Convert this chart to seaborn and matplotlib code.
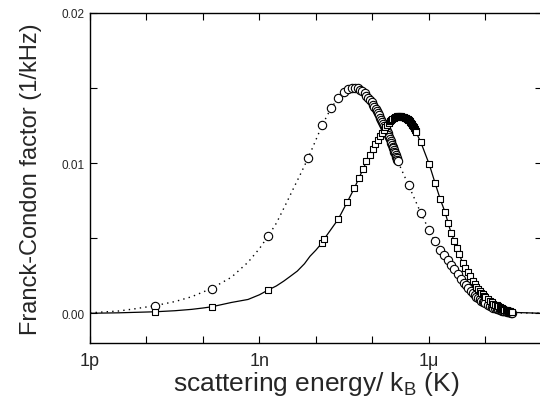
import numpy as np
import pandas as pd
import matplotlib
matplotlib.use("Agg")
import matplotlib.pyplot as plt
import seaborn as sns
from matplotlib.ticker import FixedLocator, FuncFormatter, MultipleLocator

# ---------------- data (energies in K, Franck-Condon factor in 1/kHz) ----------------
circle_E = [1.43e-11, 1.42e-10, 1.45e-9, 7.3e-9, 13.0e-9, 18.8e-9, 25.2e-9,
            31e-9, 37e-9, 43e-9, 49e-9, 55e-9, 61e-9, 67e-9, 73e-9, 79e-9, 85e-9,
            91e-9, 97e-9, 103e-9, 109e-9, 115e-9, 121e-9, 127e-9, 133e-9, 139e-9,
            145e-9, 151e-9, 157e-9, 163e-9, 169e-9, 175e-9, 181e-9, 187e-9, 193e-9,
            199e-9, 205e-9, 211e-9, 217e-9, 223e-9, 229e-9, 235e-9, 241e-9, 247e-9,
            253e-9, 259e-9, 265e-9, 271e-9, 277e-9, 284e-9,
            0.44e-6, 0.73e-6, 1.02e-6, 1.29e-6, 1.60e-6, 1.88e-6, 2.16e-6, 2.47e-6,
            2.84e-6, 3.26e-6, 3.73e-6, 4.17e-6,
            4.5e-6, 5.0e-6, 5.5e-6, 6.0e-6, 6.5e-6, 7.0e-6, 7.5e-6, 8.0e-6, 8.5e-6,
            9.0e-6, 9.5e-6, 10e-6, 11e-6, 12e-6, 13e-6, 14e-6, 15e-6, 16e-6, 17e-6,
            18e-6, 19e-6, 20e-6, 21e-6, 22e-6, 23e-6, 24e-6, 25e-6, 26e-6, 27e-6,
            28e-6, 29e-6, 30e-6]
circle_F = [0.00051, 0.00165, 0.00517, 0.01033, 0.01254, 0.01369, 0.01436,
            0.01477, 0.01494, 0.01501, 0.01503, 0.01500, 0.01490, 0.01478, 0.01464,
            0.01450, 0.01436, 0.01420, 0.01404, 0.01390, 0.01375, 0.01361, 0.01347,
            0.01333, 0.01318, 0.01303, 0.01288, 0.01275, 0.01262, 0.01249, 0.01237,
            0.01225, 0.01212, 0.01199, 0.01186, 0.01173, 0.01161, 0.01148, 0.01136,
            0.01123, 0.01110, 0.01099, 0.01088, 0.01077, 0.01066, 0.01055, 0.01044,
            0.01034, 0.01023, 0.01011,
            0.00852, 0.00666, 0.00552, 0.00479, 0.00424, 0.00385, 0.00354, 0.00319,
            0.00292, 0.00259, 0.00230, 0.00203,
            0.00190, 0.00168, 0.00150, 0.00134, 0.00121, 0.00110, 0.00100, 0.00092,
            0.00085, 0.00078, 0.00072, 0.00066, 0.00057, 0.00050, 0.00043, 0.00038,
            0.00033, 0.00029, 0.00026, 0.00023, 0.00020, 0.00018, 0.00016, 0.00014,
            0.00012, 0.00011, 0.00010, 0.00008, 0.00007, 0.00006, 0.00005, 0.00004]

square_E = [1.43e-11, 1.42e-10, 1.45e-9, 12.7e-9, 14.2e-9, 24.9e-9, 36.4e-9,
            48.1e-9, 58.7e-9, 68.7e-9, 78.9e-9, 90.6e-9, 102e-9, 113e-9, 125e-9,
            136e-9, 148e-9, 159e-9, 171e-9, 182e-9, 194e-9, 205e-9, 217e-9, 228e-9,
            240e-9, 251e-9, 263e-9, 274e-9, 286e-9, 297e-9, 309e-9, 320e-9, 332e-9,
            343e-9, 355e-9, 366e-9, 378e-9, 389e-9, 401e-9, 412e-9, 424e-9, 435e-9,
            447e-9, 458e-9, 470e-9, 481e-9, 493e-9, 504e-9, 516e-9, 527e-9, 539e-9,
            550e-9, 562e-9, 573e-9, 585e-9, 596e-9,
            0.726e-6, 1.02e-6, 1.30e-6, 1.60e-6, 1.94e-6, 2.22e-6, 2.48e-6, 2.84e-6,
            3.12e-6, 3.47e-6, 3.98e-6, 4.39e-6, 4.90e-6, 5.45e-6,
            6.0e-6, 6.5e-6, 7.0e-6, 7.5e-6, 8.0e-6, 8.5e-6, 9.0e-6, 9.5e-6, 10e-6,
            11e-6, 12e-6, 13e-6, 14e-6, 15e-6, 16e-6, 17e-6, 18e-6, 19e-6, 20e-6,
            21e-6, 22e-6, 23e-6, 24e-6, 25e-6, 26e-6, 27e-6, 28e-6, 29e-6, 30e-6]
square_F = [0.00010, 0.00043, 0.00156, 0.00466, 0.00497, 0.00626, 0.00744,
            0.00833, 0.00904, 0.00960, 0.01011, 0.01055, 0.01095, 0.01128, 0.01157,
            0.01182, 0.01204, 0.01223, 0.01240, 0.01255, 0.01268, 0.01279, 0.01288,
            0.01296, 0.01302, 0.01306, 0.01309, 0.01311, 0.01312, 0.01312, 0.01311,
            0.01311, 0.01310, 0.01308, 0.01307, 0.01305, 0.01303, 0.01300, 0.01298,
            0.01295, 0.01291, 0.01288, 0.01284, 0.01280, 0.01275, 0.01270, 0.01265,
            0.01260, 0.01254, 0.01248, 0.01242, 0.01236, 0.01229, 0.01222, 0.01214,
            0.01207,
            0.01138, 0.00993, 0.00866, 0.00760, 0.00675, 0.00599, 0.00537, 0.00481,
            0.00437, 0.00392, 0.00337, 0.00303, 0.00274, 0.00247,
            0.00214, 0.00192, 0.00175, 0.00160, 0.00147, 0.00136, 0.00126, 0.00117,
            0.00109, 0.00095, 0.00083, 0.00073, 0.00065, 0.00058, 0.00052, 0.00046,
            0.00041, 0.00036, 0.00032, 0.00028, 0.00025, 0.00022, 0.00019, 0.00017,
            0.00014, 0.00012, 0.00010, 0.00008, 0.00006]

# extra points (outside / between markers)
circle_curve_E = [1e-12, 3.2e-12, 6.3e-12, 3.2e-11, 6.3e-11, 3.2e-10, 6.3e-10,
                  1.0e-9, 2.0e-9, 2.8e-9, 4.0e-9, 5.4e-9, 1e-4]
circle_curve_F = [0.00003, 0.00015, 0.00030, 0.00078, 0.00110, 0.00240, 0.00340,
                  0.00430, 0.00600, 0.00710, 0.00830, 0.00930, 0.0]
square_curve_E = [1e-12, 3.2e-12, 3.2e-11, 6.3e-11, 1.0e-10, 3.2e-10, 6.3e-10,
                  1.0e-9, 2.0e-9, 2.7e-9, 3.5e-9, 4.7e-9, 6.3e-9, 7.9e-9, 1.0e-8, 1e-4]
square_curve_F = [0.00000, 0.00003, 0.00017, 0.00026, 0.00035, 0.00072, 0.00092,
                  0.00123, 0.00182, 0.00214, 0.00245, 0.00281, 0.00330, 0.00380,
                  0.00420, 0.0]

x_tick_values = [1e-12, 1e-11, 1e-10, 1e-9, 1e-8, 1e-7, 1e-6, 1e-5]
x_tick_labels = {1e-12: "1p", 1e-9: "1n", 1e-6: "1\u03bc"}

# ---------------- figure ----------------
sns.set_theme(style="ticks")
plt.rcParams["font.family"] = ["Liberation Sans", "DejaVu Sans"]

fig = plt.figure(figsize=(5.4, 4.1), dpi=100)
ax = fig.add_axes([90 / 540, 1 - 344.3 / 410, 1.003 - 90 / 540, (344.3 - 14) / 410])

circ = pd.DataFrame({"E": circle_E, "F": circle_F})
sq = pd.DataFrame({"E": square_E, "F": square_F})
c_line = pd.concat([circ, pd.DataFrame({"E": circle_curve_E, "F": circle_curve_F})]).sort_values("E")
s_line = pd.concat([sq, pd.DataFrame({"E": square_curve_E, "F": square_curve_F})]).sort_values("E")

ax.set_xscale("log")
sns.lineplot(data=c_line, x="E", y="F", ax=ax, color="black", lw=1.0,
             linestyle=(0, (1, 3)), sort=False, estimator=None)
sns.lineplot(data=s_line, x="E", y="F", ax=ax, color="black", lw=0.9,
             sort=False, estimator=None)
sns.scatterplot(data=circ, x="E", y="F", ax=ax, marker="o", s=36,
                facecolor="white", edgecolor="black", linewidth=0.8, zorder=3)
sns.scatterplot(data=sq, x="E", y="F", ax=ax, marker="s", s=24,
                facecolor="white", edgecolor="black", linewidth=0.8, zorder=4)

ax.set_xlim(1e-12, 1e-4)
ax.set_ylim(-0.002, 0.02)

ax.xaxis.set_major_locator(FixedLocator(x_tick_values))
ax.xaxis.set_minor_locator(FixedLocator([]))
ax.xaxis.set_major_formatter(FuncFormatter(
    lambda v, p: next((lab for k, lab in x_tick_labels.items() if abs(v / k - 1) < 1e-6), "")))
ax.yaxis.set_major_locator(FixedLocator([0.0, 0.01, 0.02]))
ax.yaxis.set_minor_locator(MultipleLocator(0.005))
ax.yaxis.set_major_formatter(FuncFormatter(lambda v, p: f"{v:.2f}"))

ax.tick_params(which="both", direction="in", top=True, right=True, color="black",
               width=0.8)
ax.tick_params(which="major", length=5)
ax.tick_params(which="minor", length=5)
ax.tick_params(axis="x", labelsize=13, pad=6)
ax.tick_params(axis="y", labelsize=8.5, pad=4)
for s in ax.spines.values():
    s.set_color("black")
    s.set_linewidth(1.0)

ax.set_xlabel("scattering energy/ k$_\\mathregular{B}$ (K)", fontsize=19, labelpad=0)
ax.set_ylabel("Franck-Condon factor (1/kHz)", fontsize=17, labelpad=14)

fig.savefig("out.png", dpi=100)
